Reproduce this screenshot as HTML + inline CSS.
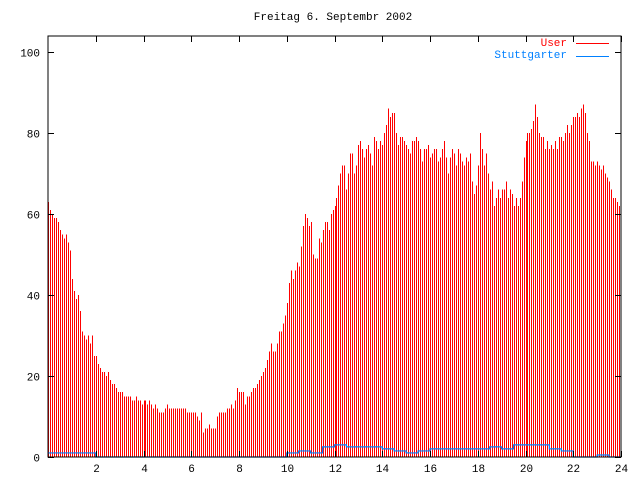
<!DOCTYPE html>
<html><head><meta charset="utf-8"><style>
body{margin:0;background:#fff}
svg{display:block}
text{font-family:"Liberation Mono",monospace;font-size:11px}
</style></head><body>
<svg id="chart" width="640" height="480" xmlns="http://www.w3.org/2000/svg" shape-rendering="crispEdges">
<rect x="0" y="0" width="640" height="480" fill="#fff"/>
<text x="333" y="20" text-anchor="middle" fill="#000">Freitag 6. Septembr 2002</text>
<g id="marks"></g>
<g id="axes"></g>
<g>
<text x="567" y="46" text-anchor="end" fill="#f00">User</text>
<line x1="576" y1="43.5" x2="609" y2="43.5" stroke="#f00"/>
<text x="567" y="58" text-anchor="end" fill="#0080ff">Stuttgarter</text>
<line x1="576" y1="56.5" x2="609" y2="56.5" stroke="#0080ff"/>
</g>
</svg>
<script>
const xTicks=[2,4,6,8,10,12,14,16,18,20,22,24];
const yTicks=[0,20,40,60,80,100];
const userValues=[
63,61,60,59,59,58,56,55,54,55,53,51,
44,41,39,40,36,31,30,29,30,28,30,25,
25,23,22,21,21,20,21,19,18,18,17,16,
16,16,15,15,15,15,14,14,15,14,14,13,
14,14,13,14,13,12,13,12,11,11,11,12,
13,12,12,12,12,12,12,12,12,12,11,11,
11,11,11,10,9,11,6,7,7,8,7,7,
7,10,11,11,11,11,12,12,13,12,14,17,
16,16,16,13,15,15,16,17,17,18,19,20,
21,22,24,26,28,26,26,28,31,31,33,35,
38,43,46,44,46,48,47,52,57,60,59,57,
58,50,49,49,54,53,56,58,58,56,60,61,
62,64,67,70,72,72,66,70,75,75,70,72,
77,78,76,74,76,77,75,72,79,78,76,78,
77,80,82,86,84,85,85,80,77,79,79,78,
77,76,75,78,78,79,78,76,73,76,76,77,
74,75,76,76,73,74,76,78,74,70,74,76,
75,72,76,75,73,72,74,73,75,68,65,67,
72,80,76,72,75,70,66,68,62,64,66,64,
66,66,68,64,66,65,62,64,62,64,68,74,
78,80,80,81,83,87,84,80,79,79,76,78,
76,77,76,78,76,79,79,78,80,82,80,82,
84,84,85,84,86,87,85,80,78,73,73,72,
73,72,71,72,70,69,68,66,64,64,63,62];
const stuttValues=[1,1,1,1,0,0,0,0,0,0,0,0,0,0,0,0,0,0,0,0,
1,1.5,1,2.5,3,2.5,2.5,2.5,2,1.5,1,1.5,2,2,2,2,2,2.5,2,3,3,3,2,1.5,0,0,0.5,0];
const L=48,R=621,T=36,B=457;
function X(h){return L+h*(R-L)/24;}
function Y(v){return B-v*4.05;}
const NS="http://www.w3.org/2000/svg";
const marks=document.getElementById('marks'),axes=document.getElementById('axes');
function mk(tag,attrs,parent){const e=document.createElementNS(NS,tag);for(const k in attrs)e.setAttribute(k,attrs[k]);parent.appendChild(e);return e;}
userValues.forEach((v,i)=>{
 const x=Math.round(X(i/12))+0.5;
 const l=mk('line',{x1:x,y1:B,x2:x,y2:Y(v),stroke:'#f00'},marks);
 
 
});
let d='';
stuttValues.forEach((v,i)=>{
 const x0=X(i/2),x1=X((i+1)/2),y=Y(v);
 d+=(i===0?'M':'L')+x0+' '+y+'L'+x1+' '+y;
});
const sp=mk('path',{d:d,fill:'none',stroke:'#0080ff','stroke-width':1.2,'shape-rendering':'auto'},marks);


const fr=mk('rect',{x:L,y:T,width:R-L,height:B-T,fill:'none',stroke:'#000'},axes);


yTicks.forEach(v=>{
 const y=Math.round(Y(v))+0.5;
 const t=mk('path',{d:`M${L} ${y}h6M${R} ${y}h-6`,stroke:'#000'},axes);
 
 
 const tx=mk('text',{x:40,y:y+4,'text-anchor':'end',fill:'#000'},axes);
 tx.textContent=v;
 
 
});
xTicks.forEach(h=>{
 const x=Math.round(X(h))+0.5;
 const t=mk('path',{d:`M${x} ${B}v-6M${x} ${T}v6`,stroke:'#000'},axes);
 
 
 const tx=mk('text',{x:x,y:472,'text-anchor':'middle',fill:'#000'},axes);
 tx.textContent=h;
 
 
});
</script>
</body></html>
